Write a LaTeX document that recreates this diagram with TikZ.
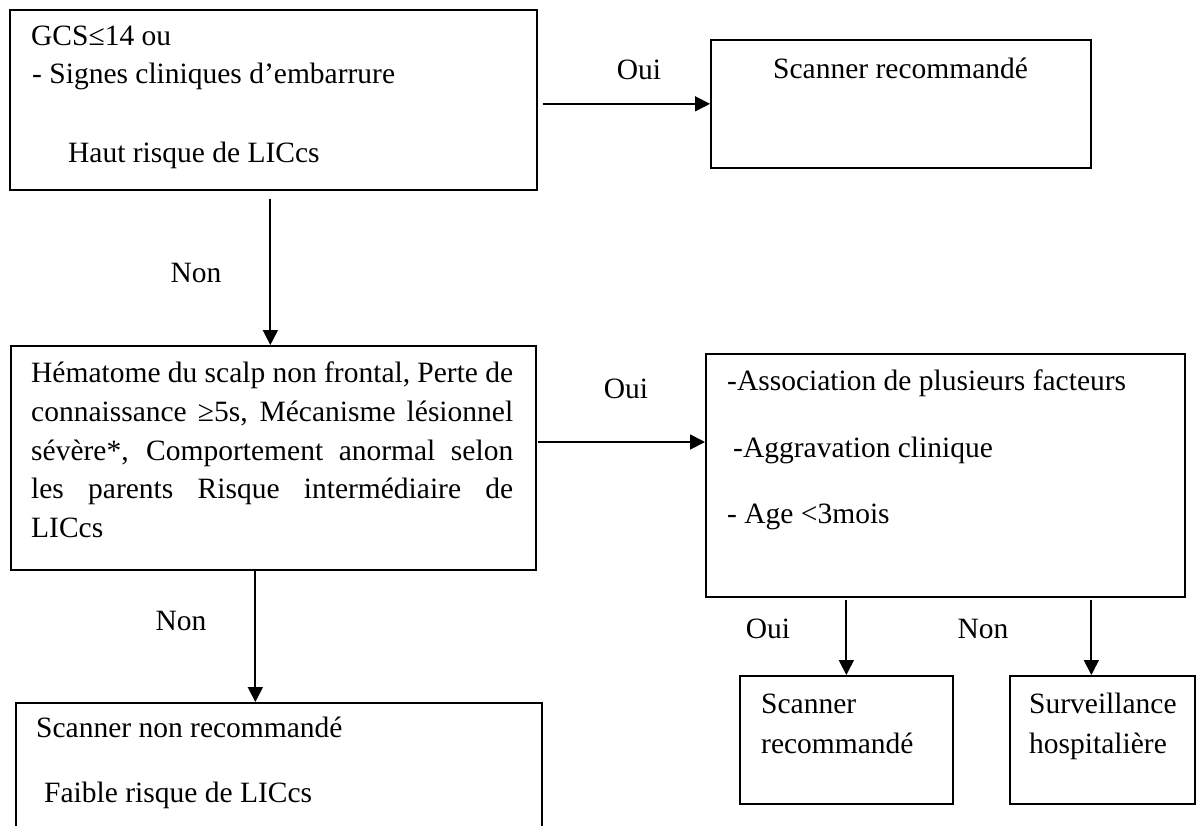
\documentclass[tikz,border=0pt]{standalone}
\usepackage{fontspec}
\setmainfont{Liberation Serif}
\usetikzlibrary{arrows.meta,calc}

\tikzset{
  box/.style={draw, line width=1.7pt, anchor=north west, inner sep=0pt},
  txt/.style={anchor=base west, inner sep=0pt, font=\fontsize{29.5}{38.7}\selectfont},
  lbl/.style={anchor=base, inner sep=0pt, font=\fontsize{29.5}{38.7}\selectfont},
  fleche/.style={line width=1.8pt, -{Triangle[length=15pt,width=15pt]}},
}

\begin{document}
\begin{tikzpicture}[x=1pt,y=-1pt]
  \clip (0,0) rectangle (1197,825);
  \fill[white] (0,0) rectangle (1197,825);
  % boxes
  \node[box, minimum width=527pt, minimum height=180pt] (haut) at (9,9) {};
  \node[box, minimum width=380pt, minimum height=128pt] (scanA) at (710,39) {};
  \node[box, minimum width=525pt, minimum height=224pt] (inter) at (10,345) {};
  \node[box, minimum width=479pt, minimum height=243pt] (assoc) at (705,353) {};
  \node[box, minimum width=526pt, minimum height=150pt] (faible) at (15,702) {};
  \node[box, minimum width=213pt, minimum height=128pt] (scanB) at (739,675) {};
  \node[box, minimum width=185pt, minimum height=128pt] (surv) at (1009,675) {};
  % texts
  \node[txt] (haut-1) at (31,45) {GCS≤14 ou};
  \node[txt] (haut-2) at (32,83) {- Signes cliniques d’embarrure};
  \node[txt] (haut-3) at (68,162) {Haut risque de LICcs};
  \node[txt] (scanA-1) at (773,78) {Scanner recommandé};
  \node[txt] (inter-1) at (31,382) {\makebox[482pt][s]{Hématome du scalp non frontal, Perte de}};
  \node[txt] (inter-2) at (31,421) {\makebox[482pt][s]{connaissance ≥5s, Mécanisme lésionnel}};
  \node[txt] (inter-3) at (31,460) {\makebox[482pt][s]{sévère*, Comportement anormal selon}};
  \node[txt] (inter-4) at (31,498) {\makebox[482pt][s]{les parents Risque intermédiaire de}};
  \node[txt] (inter-5) at (31,537) {LICcs};
  \node[txt] (assoc-1) at (727,390) {-Association de plusieurs facteurs};
  \node[txt] (assoc-2) at (733,457) {-Aggravation clinique};
  \node[txt] (assoc-3) at (727,523) {- Age <3mois};
  \node[txt] (faible-1) at (36,737) {Scanner non recommandé};
  \node[txt] (faible-2) at (44,802) {Faible risque de LICcs};
  \node[txt] (scanB-1) at (761,713) {Scanner};
  \node[txt] (scanB-2) at (761,753) {recommandé};
  \node[txt] (surv-1) at (1029,713) {Surveillance};
  \node[txt] (surv-2) at (1029,753) {hospitalière};
  % labels
  \node[lbl] (oui1) at (639,79) {Oui};
  \node[lbl] (non1) at (196,282) {Non};
  \node[lbl] (oui2) at (626,398) {Oui};
  \node[lbl] (non2) at (181,630) {Non};
  \node[lbl] (oui3) at (768,638) {Oui};
  \node[lbl] (non3) at (983,638) {Non};
  % arrows
  \draw[fleche] ([xshift=5pt]haut.east |- scanA.west) -- (scanA.west);
  \draw[fleche] ($(haut.south)+(-3,8)$) -- ($(inter.north)+(-3,0)$);
  \draw[fleche] ($(inter.north east)+(1,97)$) -- ($(assoc.north west)+(0,89)$);
  \coordinate (p) at ($(inter.south)+(-18,0)$);
  \draw[fleche] (p) -- (p |- faible.north);
  \draw[fleche] ([yshift=-2pt]assoc.south -| scanB.north) -- (scanB.north);
  \coordinate (q) at ($(surv.north)+(-11,0)$);
  \draw[fleche] ([yshift=-2pt]assoc.south -| q) -- (q);
\end{tikzpicture}
\end{document}
